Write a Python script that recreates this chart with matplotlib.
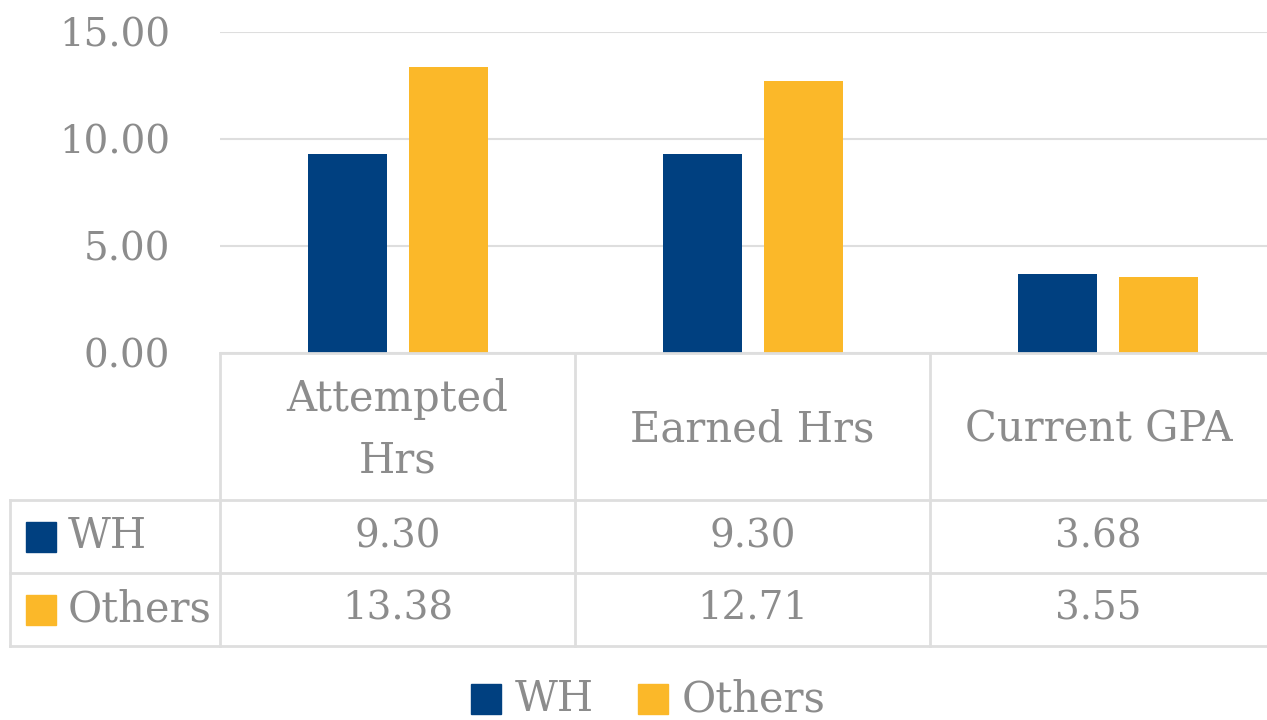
import matplotlib.pyplot as plt
from matplotlib.patches import Rectangle

# Data
categories = ["Attempted\nHrs", "Earned Hrs", "Current GPA"]
series_names = ["WH", "Others"]
wh_values = [9.30, 9.30, 3.68]
others_values = [13.38, 12.71, 3.55]
y_ticks = [0, 5, 10, 15]

NAVY = "#004080"
GOLD = "#FBB829"
TEXT = "#8C8C8C"
GRID = "#DEDEDE"
FONT = "DejaVu Serif"
W, H = 1267, 720

plt.rcParams['font.family'] = FONT

fig = plt.figure(figsize=(W / 100, H / 100), dpi=100)

# pixel helpers (top-left origin)
def fx(px):
    return px / W

def fy(py):
    return 1 - py / H

# Bar axes: plot area x 220..1286 (runs past the right edge), y 32..353
ax = fig.add_axes([fx(220), fy(353), fx(1286) - fx(220), fy(32) - fy(353)])
n = len(categories)
width = 79 / 355
offset = 50.5 / 355
xs = list(range(n))
ax.bar([x - offset for x in xs], wh_values, width, color=NAVY, zorder=3)
ax.bar([x + offset for x in xs], others_values, width, color=GOLD, zorder=3)
ax.set_xlim(-0.5, n - 0.5)
ax.set_ylim(0, 15)
ax.set_yticks(y_ticks)
ax.set_yticklabels([f"{v:.2f}" for v in y_ticks])
ax.tick_params(axis='y', length=0, labelsize=28, labelcolor=TEXT, pad=36)
ax.set_xticks([])
ax.grid(axis='y', color=GRID, linewidth=1.5, zorder=0)
for s in ax.spines.values():
    s.set_visible(False)

# Data table lines
col_edges = [220, 575, 930, 1267]
row_cat = (353, 500)
rows = [(500, 573), (573, 646)]


def hline(y, x0, x1):
    fig.add_artist(plt.Line2D([fx(x0), fx(x1)], [fy(y), fy(y)], color=GRID, lw=2))


def vline(x, y0, y1):
    fig.add_artist(plt.Line2D([fx(x), fx(x)], [fy(y0), fy(y1)], color=GRID, lw=2))


hline(353, 220, 1267)
for y in (500, 573, 646):
    hline(y, 10, 1267)
vline(10, 500, 646)
for x in col_edges[:-1]:
    vline(x, 353, 646)

# Category labels
for i, cat in enumerate(categories):
    cx = (col_edges[i] + col_edges[i + 1]) / 2
    fig.text(fx(cx), fy((row_cat[0] + row_cat[1]) / 2 + 3), cat, ha='center', va='center',
             fontsize=30, color=TEXT, linespacing=1.6)

# Value rows
for (y0, y1), name, vals, col in zip(rows, series_names, [wh_values, others_values], [NAVY, GOLD]):
    cy = (y0 + y1) / 2
    fig.add_artist(Rectangle((fx(26), fy(cy + 15)), fx(30), fy(0) - fy(30),
                             color=col, transform=fig.transFigure))
    fig.text(fx(68), fy(cy), name, ha='left', va='center', fontsize=30, color=TEXT)
    for i, v in enumerate(vals):
        cx = (col_edges[i] + col_edges[i + 1]) / 2
        fig.text(fx(cx), fy(cy), f"{v:.2f}", ha='center', va='center', fontsize=28, color=TEXT)

# Bottom legend
leg_y = 699
for name, col, x0 in zip(series_names, [NAVY, GOLD], [471, 638]):
    fig.add_artist(Rectangle((fx(x0), fy(leg_y + 15)), fx(30), fy(0) - fy(30),
                             color=col, transform=fig.transFigure))
    fig.text(fx(x0 + 44), fy(leg_y), name, ha='left', va='center', fontsize=30, color=TEXT)

fig.savefig("out.png", dpi=100)
